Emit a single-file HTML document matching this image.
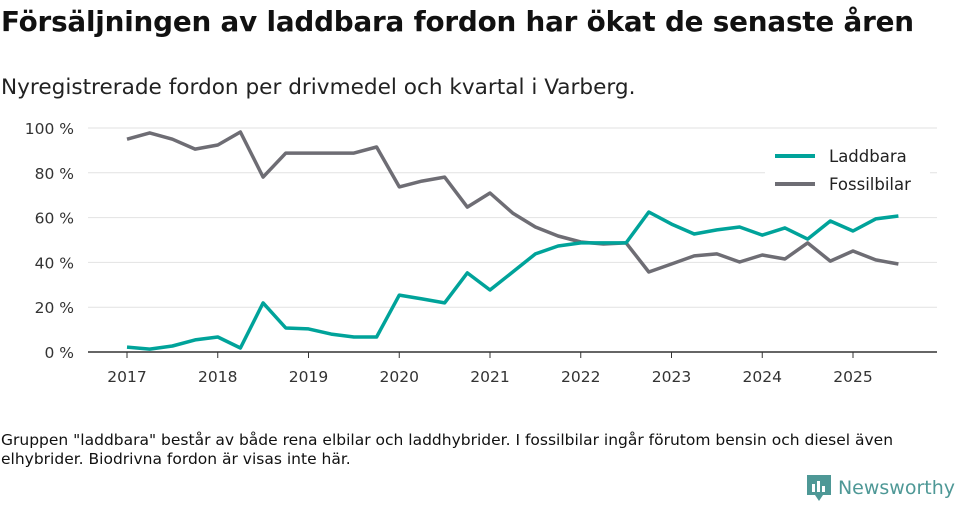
<!DOCTYPE html>
<html><head><meta charset="utf-8"><style>
body{margin:0;width:960px;height:505px;background:#fff;font-family:"DejaVu Sans","Liberation Sans",sans-serif;overflow:hidden;position:relative;color:#111}
#title{position:absolute;left:1px;top:5px;font-size:27.8px;font-weight:bold;letter-spacing:-0.2px;white-space:nowrap}
#sub{position:absolute;left:1px;top:75px;font-size:21.6px;color:#222;white-space:nowrap}
#note{position:absolute;left:1px;top:431px;font-size:15.5px;line-height:19px;color:#111;white-space:nowrap}
#logo{position:absolute;right:5px;top:474px;font-size:19px;color:#4e9896;display:flex;align-items:center;gap:6px}
svg{position:absolute;left:0;top:0}
</style></head><body>
<div id="title">Försäljningen av laddbara fordon har ökat de senaste åren</div>
<div id="sub">Nyregistrerade fordon per drivmedel och kvartal i Varberg.</div>
<svg id="chart" width="960" height="505"></svg>
<div id="note">Gruppen "laddbara" består av både rena elbilar och laddhybrider. I fossilbilar ingår förutom bensin och diesel även<br>elhybrider. Biodrivna fordon är visas inte här.</div>
<div id="logo"><svg width="26" height="28" style="position:static"><path d="M1 1h24v20h-8l-4 6-4-6H1z" fill="#4e9896"/><rect x="6" y="10" width="3" height="8" fill="#fff"/><rect x="11" y="7" width="3" height="11" fill="#fff"/><rect x="16" y="12" width="3" height="6" fill="#fff"/></svg><span>Newsworthy</span></div>
<script>
const years=[2017,2018,2019,2020,2021,2022,2023,2024,2025];
const yTicks=[0,20,40,60,80,100];
const laddbara=[2.2,1.3,2.7,5.4,6.7,1.8,21.9,10.7,10.3,8,6.7,6.7,25.4,23.7,21.9,35.3,27.7,35.7,43.8,47.3,48.7,48.7,48.7,62.5,57.1,52.7,54.5,55.8,52.2,55.4,50.4,58.5,54,59.4,60.7];
const fossil=[95,97.8,95,90.6,92.4,98.2,78.1,88.8,88.8,88.8,88.8,91.5,73.7,76.3,78.1,64.7,71,62,55.8,51.8,49.1,48.2,48.7,35.7,39.3,42.9,43.8,40.2,43.3,41.5,48.7,40.6,45.1,41.1,39.3];
const NS='http://www.w3.org/2000/svg',svg=document.getElementById('chart');
const x=t=>127+(t-2017)*90.75, y=v=>352-v*2.24;
function mk(tag,a){const e=document.createElementNS(NS,tag);for(const k in a)e.setAttribute(k,a[k]);svg.appendChild(e);return e;}
yTicks.forEach(v=>{
 const l=mk('line',{x1:88,x2:937,y1:y(v),y2:y(v),stroke:v?'#e2e2e2':'#333','stroke-width':v?1:1.5});
 
 
 const t=mk('text',{x:74,y:y(v)+6,'text-anchor':'end','font-size':15.5,fill:'#333'});t.textContent=v+' %';
 
 
});
years.forEach(yr=>{
 const k=mk('line',{x1:x(yr),x2:x(yr),y1:352,y2:358,stroke:'#333'});
 
 
 const t=mk('text',{x:x(yr),y:382,'text-anchor':'middle','font-size':15.5,fill:'#333'});t.textContent=yr;
 
 
});
function line(vals,col,name){
 const d=vals.map((v,i)=>(i?'L':'M')+x(2017+i/4).toFixed(1)+' '+y(v).toFixed(1)).join('');
 const p=mk('path',{d:d,fill:'none',stroke:col,'stroke-width':3.5,'stroke-linejoin':'round'});
 
 
}
line(fossil,'#6e6d74','fossilbilar-line');
line(laddbara,'#00a39a','laddbara-line');
[['Laddbara','#00a39a',156],['Fossilbilar','#6e6d74',184]].forEach(([n,c,yy])=>{
 const bg=mk('rect',{x:765,y:yy-14,width:165,height:26,fill:'#fff'});
 
 
 const l=mk('line',{x1:775,x2:815,y1:yy,y2:yy,stroke:c,'stroke-width':4});
 
 
 const t=mk('text',{x:829,y:yy+6,'font-size':16.5,fill:'#222'});t.textContent=n;
 
 
});
</script>
</body></html>
